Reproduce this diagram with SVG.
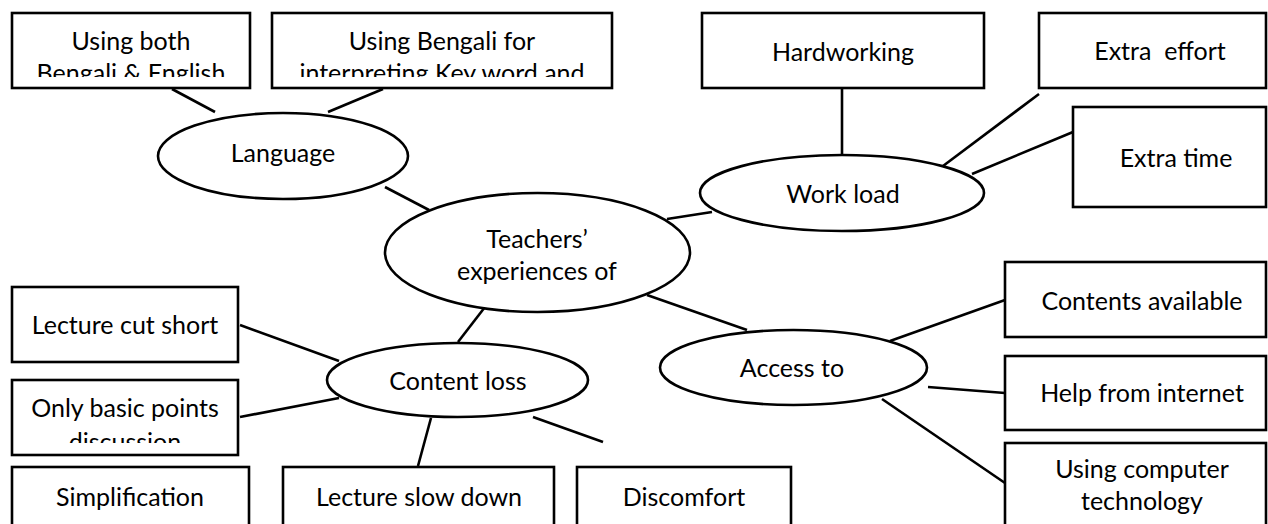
<svg xmlns="http://www.w3.org/2000/svg" width="1268" height="524" viewBox="0 0 1268 524">
<style>
.box{fill:#fff;stroke:#000;stroke-width:2.6}
.ell{fill:#fff;stroke:#000;stroke-width:2.6}
.ln{stroke:#000;stroke-width:2.6;fill:none}
text{font-family:Lato,"Liberation Sans",sans-serif;font-size:25px;fill:#000;text-anchor:middle}
</style>
<defs>
<clipPath id="c1"><rect x="0" y="0" width="1268" height="77"/></clipPath>
<clipPath id="c2"><rect x="0" y="370" width="300" height="73"/></clipPath>
</defs>
<rect width="1268" height="524" fill="#fff"/>
<g id="connectors">
<line class="ln" x1="172" y1="89" x2="215" y2="112"/>
<line class="ln" x1="383" y1="89" x2="328" y2="112"/>
<line class="ln" x1="385" y1="187" x2="429" y2="210"/>
<line class="ln" x1="842" y1="88" x2="842" y2="155"/>
<line class="ln" x1="943" y1="166" x2="1039" y2="94"/>
<line class="ln" x1="972" y1="174" x2="1073" y2="132"/>
<line class="ln" x1="667" y1="219" x2="712" y2="212"/>
<line class="ln" x1="647" y1="295" x2="747" y2="330"/>
<line class="ln" x1="485" y1="307" x2="458" y2="342"/>
<line class="ln" x1="240" y1="325" x2="339" y2="361"/>
<line class="ln" x1="240" y1="417" x2="339" y2="398"/>
<line class="ln" x1="431" y1="418" x2="418" y2="466"/>
<line class="ln" x1="533" y1="417" x2="603" y2="442"/>
<line class="ln" x1="890" y1="341" x2="1005" y2="300"/>
<line class="ln" x1="928" y1="387" x2="1005" y2="393"/>
<line class="ln" x1="882" y1="399" x2="1005" y2="483"/>
</g>
<g id="n-both">
<rect class="box" x="12" y="13" width="238" height="75"/>
<g clip-path="url(#c1)"><text x="131" y="50">Using both</text><text x="131" y="82">Bengali &amp; English</text></g>
</g>
<g id="n-bengali">
<rect class="box" x="272" y="13" width="340" height="75"/>
<g clip-path="url(#c1)"><text x="442" y="50">Using Bengali for</text><text x="442" y="82">interpreting Key word and</text></g>
</g>
<g id="n-hardworking">
<rect class="box" x="702" y="13" width="282" height="75"/>
<text x="843" y="61">Hardworking</text>
</g>
<g id="n-effort">
<rect class="box" x="1039" y="13" width="227" height="75"/>
<text x="1160" y="60" xml:space="preserve">Extra  effort</text>
</g>
<g id="n-time">
<rect class="box" x="1073" y="107" width="193" height="100"/>
<text x="1176" y="167">Extra time</text>
</g>
<g id="n-language">
<ellipse class="ell" cx="283" cy="156" rx="125" ry="43"/>
<text x="283" y="162">Language</text>
</g>
<g id="n-workload">
<ellipse class="ell" cx="842" cy="193" rx="142" ry="38"/>
<text x="843" y="203">Work load</text>
</g>
<g id="n-teachers">
<ellipse class="ell" cx="537.5" cy="252.5" rx="152.5" ry="59.5"/>
<text x="537" y="248">Teachers’</text>
<text x="537" y="280">experiences of</text>
</g>
<g id="n-content">
<ellipse class="ell" cx="457.5" cy="380" rx="130.5" ry="37"/>
<text x="458" y="390">Content loss</text>
</g>
<g id="n-access">
<ellipse class="ell" cx="793.5" cy="367.5" rx="133.5" ry="37.5"/>
<text x="792" y="377">Access to</text>
</g>
<g id="n-cut">
<rect class="box" x="12" y="287" width="226" height="75"/>
<text x="125" y="334">Lecture cut short</text>
</g>
<g id="n-basic">
<rect class="box" x="12" y="380" width="226" height="75"/>
<g clip-path="url(#c2)"><text x="125" y="417">Only basic points</text><text x="125" y="451">discussion</text></g>
</g>
<g id="n-simpl">
<rect class="box" x="12" y="467" width="237" height="80"/>
<text x="130" y="506">Simplification</text>
</g>
<g id="n-slow">
<rect class="box" x="283" y="467" width="271" height="80"/>
<text x="419" y="506">Lecture slow down</text>
</g>
<g id="n-discomfort">
<rect class="box" x="577" y="467" width="214" height="80"/>
<text x="684" y="506">Discomfort</text>
</g>
<g id="n-contents">
<rect class="box" x="1005" y="262" width="261" height="75"/>
<text x="1142" y="310">Contents available</text>
</g>
<g id="n-help">
<rect class="box" x="1005" y="356" width="261" height="74"/>
<text x="1142" y="402">Help from internet</text>
</g>
<g id="n-computer">
<rect class="box" x="1005" y="443" width="261" height="100"/>
<text x="1142" y="478">Using computer</text>
<text x="1142" y="510">technology</text>
</g>
</svg>
